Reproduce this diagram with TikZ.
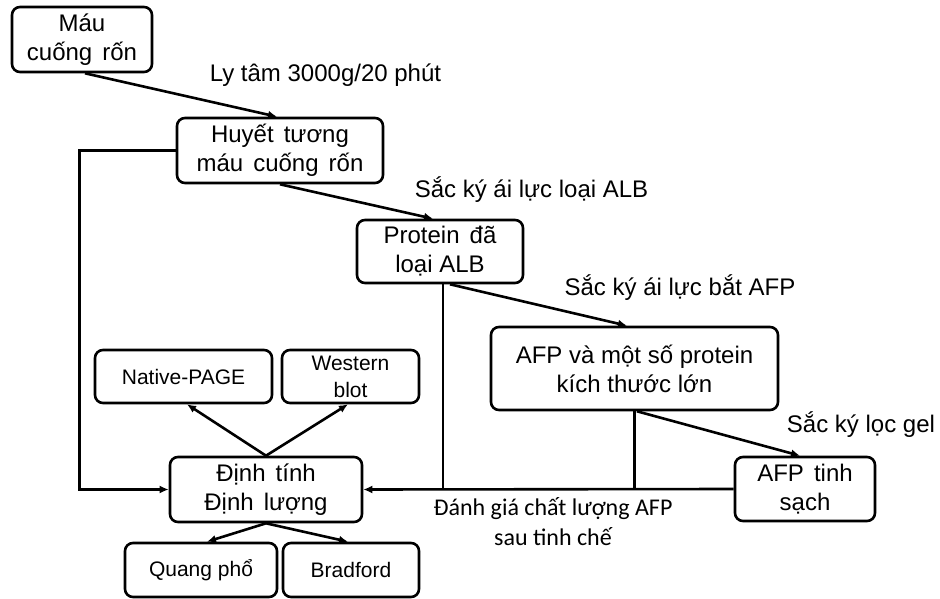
\documentclass[tikz,border=0pt]{standalone}
\usepackage{fontspec}
\setmainfont{Liberation Sans}
\newfontfamily\notefont{Carlito}
\usetikzlibrary{arrows.meta}
% wider word gap used inside some boxes
\newcommand\wgap{\hspace{0.42em}}

\begin{document}
\begin{tikzpicture}[x=1pt, y=-1pt,
    box/.style={draw, line width=2.6pt, rounded corners=8pt, align=center,
      inner sep=0pt, font=\fontsize{24}{29}\selectfont},
    smallbox/.style={box, font=\fontsize{21}{27}\selectfont},
    lbl/.style={inner sep=0pt, font=\fontsize{24}{28}\selectfont},
    flow/.style={line width=2.6pt, -{Latex[length=9pt, width=8pt]}},
    link/.style={line width=2.6pt}]
  \useasboundingbox (0,0) rectangle (940,599);

  % purification steps
  \node [box, minimum width=140, minimum height=65] (mau) at (82,39.5) {Máu\\cuống\wgap rốn};
  \node [box, minimum width=206, minimum height=65] (huyet) at (280,150.5) {Huyết\wgap tương\\máu\wgap cuống\wgap rốn};
  \node [box, minimum width=166, minimum height=63] (protein) at (440,251.5) {Protein\wgap đã\\loại ALB};
  \node [box, minimum width=287, minimum height=83] (afpmix) at (634.5,368.5) {AFP và một số protein\\kích thước lớn};
  \node [box, minimum width=140, minimum height=64] (afppure) at (805,489) {AFP\wgap tinh\\sạch};

  % analysis
  \node [box, minimum width=192, minimum height=65] (dinh) at (266,489.5) {Định\wgap tính\\Định\wgap lượng};
  \node [smallbox, minimum width=177, minimum height=53] (native) at (183.5,376.5) {Native-PAGE};
  \node [smallbox, minimum width=137, minimum height=53] (western) at (350.5,376.5) {Western\\blot};
  \node [smallbox, minimum width=152, minimum height=54] (quang) at (201,570) {Quang phổ};
  \node [smallbox, minimum width=136, minimum height=54] (bradford) at (351,570) {Bradford};

  % step labels
  \node [lbl] (lblspin) at (325.5,75) {Ly tâm 3000g/20 phút};
  \node [lbl] (lblalb) at (531.5,190) {Sắc ký ái lực loại ALB};
  \node [lbl] (lblafp) at (680,288) {Sắc ký ái lực bắt AFP};
  \node [lbl] (lblgel) at (861,425) {Sắc ký lọc gel};
  \node [inner sep=0pt, align=center, font=\notefont\fontsize{24}{30}\selectfont] (lblqc) at (553,522) {Đánh giá chất lượng AFP\\sau tinh chế};

  \draw [flow] ([xshift=3pt]mau.south) -- ([xshift=-3pt]huyet.north);
  \draw [flow] (huyet.south) -- ([xshift=-7pt]protein.north);
  \draw [flow] ([xshift=10pt]protein.south) -- ([xshift=-7.5pt]afpmix.north);
  \draw [flow] ([xshift=2.5pt]afpmix.south) -- ([xshift=-5pt]afppure.north);

  % samples going back to the analysis box
  \draw [flow] (huyet.west) -| ([xshift=-89pt]dinh.west) -- (dinh.west);
  \draw [flow] (afppure.west) -- (dinh.east);
  \draw [link] ([xshift=3pt]protein.south) -- ([xshift=3pt]protein.south |- dinh.east);
  \draw [link] (afpmix.south) -- (afpmix.south |- dinh.east);

  \draw [flow] (dinh.north) -- ([xshift=3.5pt]native.south);
  \draw [flow] (dinh.north) -- ([xshift=-2.5pt]western.south);
  \draw [flow] (dinh.south) -- ([xshift=6pt]quang.north);
  \draw [flow] (dinh.south) -- ([xshift=-3pt]bradford.north);
\end{tikzpicture}
\end{document}
